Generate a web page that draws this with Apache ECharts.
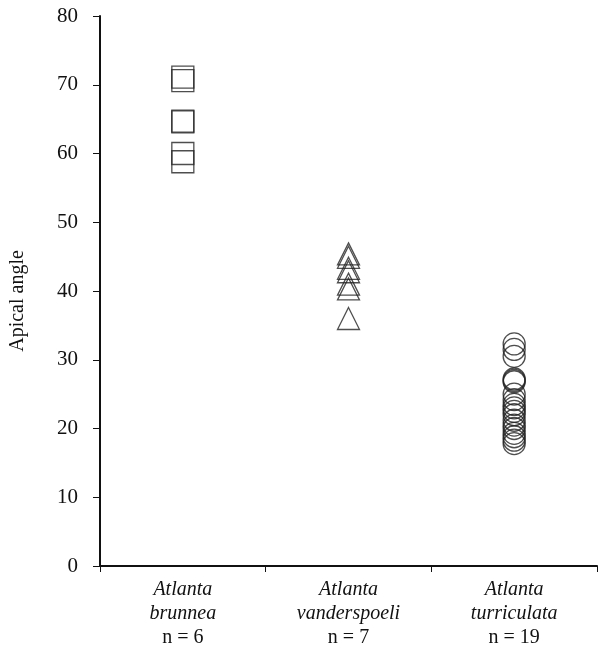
<!DOCTYPE html>
<html><head><meta charset="utf-8">
<script src="https://cdn.jsdelivr.net/npm/echarts@6/dist/echarts.min.js"></script>
<style>html,body{margin:0;padding:0;background:#fff}#c{width:606px;height:655px}</style>
</head><body><div id="c"></div>
<script>
const categories = ['Atlanta brunnea', 'Atlanta vanderspoeli', 'Atlanta turriculata'];
const genus = ['Atlanta', 'Atlanta', 'Atlanta'];
const species = ['brunnea', 'vanderspoeli', 'turriculata'];
const counts = ['n = 6', 'n = 7', 'n = 19'];
const brunnea = [71.1, 70.6, 64.7, 64.6, 60.0, 58.8];
const vanderspoeli = [45.4, 44.9, 43.3, 42.8, 41.0, 40.3, 36.0];
const turriculata = [32.3, 31.5, 30.5, 27.2, 27.0, 26.8, 25.0, 24.2, 23.5, 23.0, 22.5, 22.0, 21.2, 20.5, 20.0, 19.3, 18.8, 18.3, 17.8];
const yTicks = [0, 10, 20, 30, 40, 50, 60, 70, 80];

const font = '"Liberation Serif", "DejaVu Serif", serif';
const chart = echarts.init(document.getElementById('c'));
function pts(idx, arr) { return arr.map(v => [idx, v]); }
const markerStyle = { color: 'rgba(0,0,0,0)', borderColor: '#222', borderWidth: 1.3 };
chart.setOption({
  animation: false,
  backgroundColor: '#fff',
  textStyle: { fontFamily: font },
  grid: { left: 97, right: 9, top: 16, bottom: 89 },
  xAxis: {
    type: 'category', data: categories, boundaryGap: true,
    axisLine: { lineStyle: { color: '#111', width: 2 } },
    axisTick: { show: true, length: 6, inside: false, lineStyle: { color: '#111', width: 1 } },
    axisLabel: {
      margin: 12, interval: 0,
      formatter: (v, i) => '{i|' + genus[i] + '}\n{i|' + species[i] + '}\n{n|' + counts[i] + '}',
      rich: {
        i: { fontFamily: font, fontStyle: 'italic', fontSize: 20, color: '#111', lineHeight: 24 },
        n: { fontFamily: font, fontSize: 20, color: '#111', lineHeight: 24 }
      }
    },
    splitLine: { show: false }
  },
  yAxis: {
    type: 'value', min: 0, max: 80, interval: 10,
    name: 'Apical angle', nameLocation: 'middle', nameGap: 72, nameRotate: 90,
    nameTextStyle: { fontFamily: font, fontSize: 20, color: '#111', padding: [0, 20, 0, 0] },
    axisLine: { show: true, lineStyle: { color: '#111', width: 2 } },
    axisTick: { show: true, length: 7, inside: false, lineStyle: { color: '#111', width: 1 } },
    axisLabel: { margin: 22, fontFamily: font, fontSize: 21, color: '#111',
      formatter: v => yTicks.includes(v) ? String(v) : '' },
    splitLine: { show: false }
  },
  series: [
    { type: 'scatter', symbol: 'rect', symbolSize: 22, data: pts(0, brunnea), itemStyle: markerStyle },
    { type: 'scatter', symbol: 'triangle', symbolSize: 22, data: pts(1, vanderspoeli), itemStyle: markerStyle },
    { type: 'scatter', symbol: 'circle', symbolSize: 22, data: pts(2, turriculata), itemStyle: markerStyle }
  ]
});
</script></body></html>
